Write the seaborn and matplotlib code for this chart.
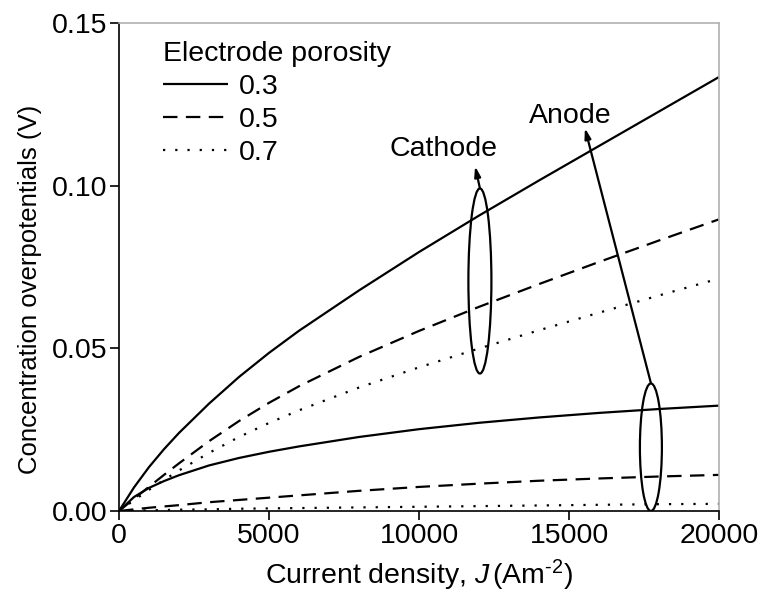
import numpy as np
import pandas as pd
import matplotlib
matplotlib.use("Agg")
import matplotlib.pyplot as plt
import seaborn as sns
from matplotlib.patches import Ellipse
from matplotlib.lines import Line2D

# ---- data ----
current_density = [0, 500, 1000, 1500, 2000, 3000, 4000, 5000, 6000, 8000,
                   10000, 12000, 14000, 16000, 18000, 20000]
cathode_03 = [0, 0.00725, 0.0135, 0.0190, 0.0240, 0.0330, 0.0412, 0.0486, 0.0554, 0.0678,
              0.0796, 0.0908, 0.1016, 0.1122, 0.1228, 0.1334]
cathode_05 = [0, 0.00375, 0.00745, 0.0111, 0.01465, 0.02145, 0.02765, 0.03325, 0.03835, 0.04735,
              0.05535, 0.06275, 0.06975, 0.07655, 0.08315, 0.08965]
cathode_07 = [0, 0.0033, 0.0065, 0.00955, 0.01245, 0.01785, 0.02275, 0.02705, 0.03095, 0.03795,
              0.04415, 0.04995, 0.05555, 0.06095, 0.06625, 0.07145]
anode_03 = [0, 0.0043, 0.0071, 0.0092, 0.0110, 0.0140, 0.0163, 0.0182, 0.01985, 0.02275,
            0.02515, 0.02711, 0.02875, 0.03015, 0.03135, 0.03239]
anode_05 = [0, 0.0005, 0.0010, 0.0014, 0.0018, 0.0027, 0.0034, 0.0041, 0.0048, 0.0062,
            0.0074, 0.0084, 0.0093, 0.0100, 0.0106, 0.0111]
anode_07 = [0, 0.0001, 0.0002, 0.0003, 0.0004, 0.0005, 0.0007, 0.0008, 0.0009, 0.0011,
            0.0013, 0.0015, 0.0017, 0.0019, 0.0021, 0.0022]
porosities = ["0.3", "0.5", "0.7"]
x_ticks = [0, 5000, 10000, 15000, 20000]
y_ticks = [0.00, 0.05, 0.10, 0.15]

sns.set_theme(style="white")
plt.rcParams['font.family'] = ['Liberation Sans', 'DejaVu Sans']
plt.rcParams['mathtext.fontset'] = 'custom'
plt.rcParams['mathtext.it'] = 'Liberation Sans:italic'
plt.rcParams['mathtext.rm'] = 'Liberation Sans'
plt.rcParams['mathtext.sf'] = 'Liberation Sans'
plt.rcParams['text.color'] = 'black'
plt.rcParams['axes.labelcolor'] = 'black'

FS = 20.5

rows = []
for electrode, series in [("Cathode", [cathode_03, cathode_05, cathode_07]),
                          ("Anode", [anode_03, anode_05, anode_07])]:
    for por, vals in zip(porosities, series):
        for j, v in zip(current_density, vals):
            rows.append({"J": j, "eta": v, "electrode": electrode, "porosity": por})
df = pd.DataFrame(rows)

fig = plt.figure(figsize=(7.64, 5.92), dpi=100)
ax = fig.add_axes([119/764, 1 - 511/592, 600/764, 488/592])

lw = 1.6
styles = {"0.3": (0, ()), "0.5": (0, (6.5, 3.8)), "0.7": (0, (1, 4.5))}
for electrode in ["Cathode", "Anode"]:
    for por in porosities:
        sub = df[(df.electrode == electrode) & (df.porosity == por)]
        sns.lineplot(data=sub, x="J", y="eta", ax=ax, color="black", lw=lw,
                     linestyle=styles[por], legend=False, estimator=None)

ax.set_xlim(0, 20000)
ax.set_ylim(0, 0.15)
ax.set_xticks(x_ticks)
ax.set_xticklabels([str(t) for t in x_ticks])
ax.set_yticks(y_ticks)
ax.set_yticklabels([f"{t:.2f}" for t in y_ticks])
ax.tick_params(axis="both", which="major", direction="out", length=6.5, width=1.2,
               labelsize=FS, color="black", labelcolor="black", pad=2,
               bottom=True, left=True, top=False, right=False)
for side in ["left", "bottom"]:
    ax.spines[side].set_color("black")
    ax.spines[side].set_linewidth(1.2)
for side in ["top", "right"]:
    ax.spines[side].set_color("#b0b0b0")
    ax.spines[side].set_linewidth(1.2)

ax.set_xlabel(r"Current density, $J\,$(Am$^{\text{-2}}$)", fontsize=FS, color="black", va="center")
ax.xaxis.set_label_coords(0.5, (511 - 575) / 488)
ax.set_ylabel("Concentration overpotentials (V)", fontsize=18.5, color="black", va="center")
ax.yaxis.set_label_coords((30 - 119) / 600, (511 - 289) / 488)

# ellipses and arrows
ax.add_patch(Ellipse((12030, 0.0707), 767, 0.0569, fill=False, ec="black", lw=lw))
ax.add_patch(Ellipse((17730, 0.0196), 733, 0.0392, fill=False, ec="black", lw=lw))
ax.annotate("", xy=(11870, 0.1060), xytext=(12030, 0.0992),
            arrowprops=dict(arrowstyle="-|>,head_length=0.5,head_width=0.15",
                            color="black", lw=lw, shrinkA=0, shrinkB=0))
ax.annotate("", xy=(15530, 0.1177), xytext=(17730, 0.0393),
            arrowprops=dict(arrowstyle="-|>,head_length=0.5,head_width=0.15",
                            color="black", lw=lw, shrinkA=0, shrinkB=0))
ax.text(10830, 0.1113, "Cathode", fontsize=FS, ha="center", va="center", color="black")
ax.text(15030, 0.1214, "Anode", fontsize=FS, ha="center", va="center", color="black")

handles = [Line2D([0], [0], color="black", lw=lw, linestyle=styles[p]) for p in porosities]
leg = ax.legend(handles, porosities, title="Electrode porosity", loc="upper left",
                bbox_to_anchor=(0.035, 1.01), frameon=False, fontsize=FS,
                title_fontsize=FS, handlelength=2.3, handletextpad=0.36,
                labelspacing=0.25, borderpad=0.3, alignment="left")
leg.get_title().set_color("black")
for t in leg.get_texts():
    t.set_color("black")

fig.savefig("out.png", dpi=100)
